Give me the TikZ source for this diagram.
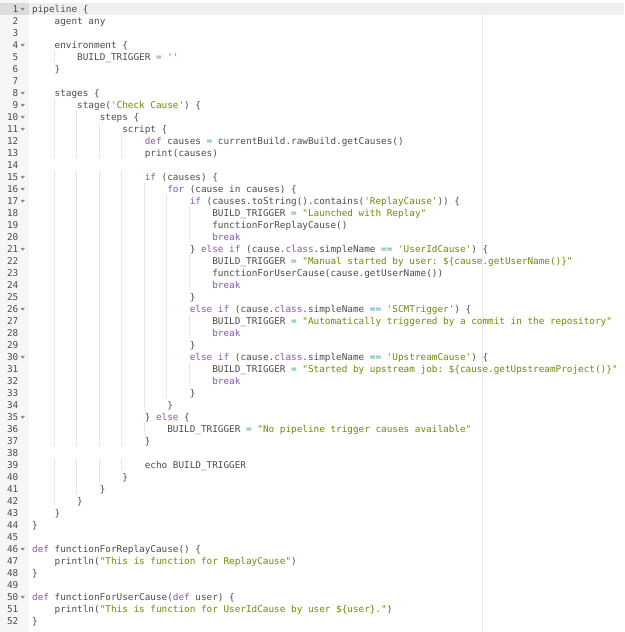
\documentclass[tikz,border=0pt]{standalone}
\usepackage{fontspec}
\usepackage{xcolor}
\setmonofont{DejaVu Sans Mono}
\usetikzlibrary{positioning}
\definecolor{codeText}{HTML}{4D4D4C}
\definecolor{keywordColor}{HTML}{8959A8}
\definecolor{stringColor}{HTML}{718C00}
\definecolor{operatorColor}{HTML}{3E999F}
\definecolor{gutterColor}{HTML}{F6F6F6}
\definecolor{gutterActive}{HTML}{DCDCDC}
\definecolor{activeLine}{HTML}{EFEFEF}
\definecolor{marginColor}{HTML}{E8E8E8}
\definecolor{guideColor}{HTML}{D6D6D6}
\definecolor{foldColor}{HTML}{8A8A8A}
\newcommand{\codefont}{\ttfamily\fontsize{9.35}{12}\selectfont}
\newcommand{\kw}[1]{\textcolor{keywordColor}{#1}}
\newcommand{\strg}[1]{\textcolor{stringColor}{#1}}
\newcommand{\opr}[1]{\textcolor{operatorColor}{#1}}
\def\ind{22.52}
\def\lh{12}
\tikzset{
  codeline/.style={anchor=base west, inner sep=0pt, font=\codefont, text=codeText},
  lineno/.style={anchor=base east, inner sep=0pt, font=\codefont, text=codeText},
  foldmark/.style={fill=foldColor},
  guide/.style={draw=guideColor, line width=0.6pt, dash pattern=on 1pt off 1pt}
}

\begin{document}
\begin{tikzpicture}[x=1pt, y=-1pt]
            \useasboundingbox (0,0) rectangle (624,632);
            \fill[white] (0,0) rectangle (624,632);
            % Gutter and print margin
            \fill[gutterColor] (0,0) rectangle (29,632);
            \draw[marginColor, line width=1pt] (482,15) -- (482,632);
            % Active line
            \fill[activeLine] (29,3) rectangle (624,15);
            \fill[gutterActive] (0,3) rectangle (29,15);

            % Line numbers
            \foreach \i in {1,...,52}
                \node[lineno] (n\i) at (18.5, {12.3+(\i-1)*\lh}) {\i};

            % Fold widgets
            \foreach \i in {1,4,8,9,10,11,15,16,17,21,26,30,35,46,50}
                \fill[foldmark] (20.5, {7.8+(\i-1)*\lh}) -- ++(4.4,0) -- ++(-2.2,3) -- cycle;

            % Indent guides
            \foreach \r/\lev in {5/2, 9/2, 10/3, 11/4, 12/5, 13/5, 15/5, 16/6, 17/7, 18/8, 19/8, 20/8,
                    21/7, 22/8, 23/8, 24/8, 25/7, 26/7, 27/8, 28/8, 29/7, 30/7, 31/8, 32/8, 33/7,
                    34/6, 35/5, 36/6, 37/5, 39/5, 40/4, 41/3, 42/2} {
                \pgfmathtruncatemacro{\m}{\lev-1}
                \foreach \k in {1,...,\m}
                    \draw[guide] ({31.6+\k*\ind}, {3+(\r-1)*\lh}) -- ++(0,\lh);
            }

            % Code
            \node[codeline] (c1) at ({32+0*\ind}, {12.3+0*\lh}) {pipeline \{};
            \node[codeline] (c2) at ({32+1*\ind}, {12.3+1*\lh}) {agent any};
            \node[codeline] (c4) at ({32+1*\ind}, {12.3+3*\lh}) {environment \{};
            \node[codeline] (c5) at ({32+2*\ind}, {12.3+4*\lh}) {BUILD\_TRIGGER \opr{=} \strg{''}};
            \node[codeline] (c6) at ({32+1*\ind}, {12.3+5*\lh}) {\}};
            \node[codeline] (c8) at ({32+1*\ind}, {12.3+7*\lh}) {stages \{};
            \node[codeline] (c9) at ({32+2*\ind}, {12.3+8*\lh}) {stage(\strg{'Check Cause'}) \{};
            \node[codeline] (c10) at ({32+3*\ind}, {12.3+9*\lh}) {steps \{};
            \node[codeline] (c11) at ({32+4*\ind}, {12.3+10*\lh}) {script \{};
            \node[codeline] (c12) at ({32+5*\ind}, {12.3+11*\lh}) {\kw{def} causes \opr{=} currentBuild.rawBuild.getCauses()};
            \node[codeline] (c13) at ({32+5*\ind}, {12.3+12*\lh}) {print(causes)};
            \node[codeline] (c15) at ({32+5*\ind}, {12.3+14*\lh}) {\kw{if} (causes) \{};
            \node[codeline] (c16) at ({32+6*\ind}, {12.3+15*\lh}) {\kw{for} (cause in causes) \{};
            \node[codeline] (c17) at ({32+7*\ind}, {12.3+16*\lh}) {\kw{if} (causes.toString().contains(\strg{'ReplayCause'})) \{};
            \node[codeline] (c18) at ({32+8*\ind}, {12.3+17*\lh}) {BUILD\_TRIGGER \opr{=} \strg{"Launched with Replay"}};
            \node[codeline] (c19) at ({32+8*\ind}, {12.3+18*\lh}) {functionForReplayCause()};
            \node[codeline] (c20) at ({32+8*\ind}, {12.3+19*\lh}) {\kw{break}};
            \node[codeline] (c21) at ({32+7*\ind}, {12.3+20*\lh}) {\} \kw{else} \kw{if} (cause.\kw{class}.simpleName \opr{==} \strg{'UserIdCause'}) \{};
            \node[codeline] (c22) at ({32+8*\ind}, {12.3+21*\lh}) {BUILD\_TRIGGER \opr{=} \strg{"Manual started by user: \$\{cause.getUserName()\}"}};
            \node[codeline] (c23) at ({32+8*\ind}, {12.3+22*\lh}) {functionForUserCause(cause.getUserName())};
            \node[codeline] (c24) at ({32+8*\ind}, {12.3+23*\lh}) {\kw{break}};
            \node[codeline] (c25) at ({32+7*\ind}, {12.3+24*\lh}) {\}};
            \node[codeline] (c26) at ({32+7*\ind}, {12.3+25*\lh}) {\kw{else} \kw{if} (cause.\kw{class}.simpleName \opr{==} \strg{'SCMTrigger'}) \{};
            \node[codeline] (c27) at ({32+8*\ind}, {12.3+26*\lh}) {BUILD\_TRIGGER \opr{=} \strg{"Automatically triggered by a commit in the repository"}};
            \node[codeline] (c28) at ({32+8*\ind}, {12.3+27*\lh}) {\kw{break}};
            \node[codeline] (c29) at ({32+7*\ind}, {12.3+28*\lh}) {\}};
            \node[codeline] (c30) at ({32+7*\ind}, {12.3+29*\lh}) {\kw{else} \kw{if} (cause.\kw{class}.simpleName \opr{==} \strg{'UpstreamCause'}) \{};
            \node[codeline] (c31) at ({32+8*\ind}, {12.3+30*\lh}) {BUILD\_TRIGGER \opr{=} \strg{"Started by upstream job: \$\{cause.getUpstreamProject()\}"}};
            \node[codeline] (c32) at ({32+8*\ind}, {12.3+31*\lh}) {\kw{break}};
            \node[codeline] (c33) at ({32+7*\ind}, {12.3+32*\lh}) {\}};
            \node[codeline] (c34) at ({32+6*\ind}, {12.3+33*\lh}) {\}};
            \node[codeline] (c35) at ({32+5*\ind}, {12.3+34*\lh}) {\} \kw{else} \{};
            \node[codeline] (c36) at ({32+6*\ind}, {12.3+35*\lh}) {BUILD\_TRIGGER \opr{=} \strg{"No pipeline trigger causes available"}};
            \node[codeline] (c37) at ({32+5*\ind}, {12.3+36*\lh}) {\}};
            \node[codeline] (c39) at ({32+5*\ind}, {12.3+38*\lh}) {echo BUILD\_TRIGGER};
            \node[codeline] (c40) at ({32+4*\ind}, {12.3+39*\lh}) {\}};
            \node[codeline] (c41) at ({32+3*\ind}, {12.3+40*\lh}) {\}};
            \node[codeline] (c42) at ({32+2*\ind}, {12.3+41*\lh}) {\}};
            \node[codeline] (c43) at ({32+1*\ind}, {12.3+42*\lh}) {\}};
            \node[codeline] (c44) at ({32+0*\ind}, {12.3+43*\lh}) {\}};
            \node[codeline] (c46) at ({32+0*\ind}, {12.3+45*\lh}) {\kw{def} functionForReplayCause() \{};
            \node[codeline] (c47) at ({32+1*\ind}, {12.3+46*\lh}) {println(\strg{"This is function for ReplayCause"})};
            \node[codeline] (c48) at ({32+0*\ind}, {12.3+47*\lh}) {\}};
            \node[codeline] (c50) at ({32+0*\ind}, {12.3+49*\lh}) {\kw{def} functionForUserCause(\kw{def} user) \{};
            \node[codeline] (c51) at ({32+1*\ind}, {12.3+50*\lh}) {println(\strg{"This is function for UserIdCause by user \$\{user\}."})};
            \node[codeline] (c52) at ({32+0*\ind}, {12.3+51*\lh}) {\}};
        \end{tikzpicture}
\end{document}
